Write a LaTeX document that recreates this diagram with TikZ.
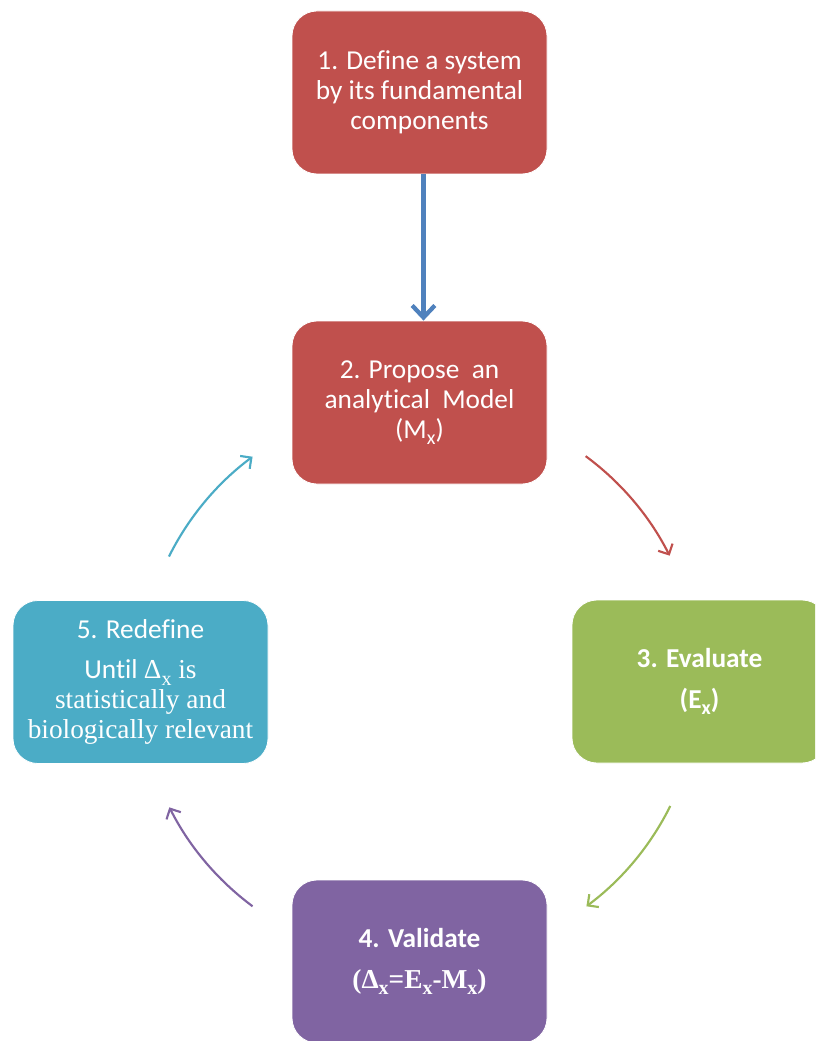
\documentclass[tikz,border=0pt]{standalone}
\usepackage{fontspec}
\setmainfont{Carlito}[Ligatures=NoCommon]
\newfontfamily\serifx{Liberation Serif}
\usetikzlibrary{arrows.meta}
\definecolor{cred}{HTML}{C0504D}
\definecolor{cblue}{HTML}{4F81BD}
\definecolor{cgreen}{HTML}{9BBB59}
\definecolor{cpurple}{HTML}{8064A2}
\definecolor{ccyan}{HTML}{4BACC6}
\tikzset{
  box/.style={rounded corners=18.75pt, minimum width=191.25pt, minimum height=122.25pt,
    draw=white, line width=0.6pt, text=white, align=center, inner sep=0pt, font=\fontsize{20.5}{22.5}\selectfont},
  cyc/.style={line width=1.6pt, -{Straight Barb[length=6pt,width=12pt,line width=1.6pt]}},
}
\newcommand{\sbx}{\raisebox{-0.5ex}{\fontsize{15}{15}\selectfont x}}
\begin{document}
\begin{tikzpicture}[x=0.75pt,y=0.75pt]
\clip (0,0) rectangle (815,-1041);
\fill[white] (0,0) rectangle (815,-1041);
\coordinate (c) at (419.5,-681.5);
\node[box, fill=cred] (b1) at (419.5,-92.5) {1. Define a system\\by its fundamental\\components};
\node[box, fill=cred] (b2) at (419.5,-402.5) {2. Propose\ \ an\\analytical\ \ Model\\(M\sbx)};
\node[box, fill=cgreen, font=\fontsize{20.5}{22.5}\selectfont\bfseries] (b3) at (699.5,-681.5) {3. Evaluate\\[8pt](E\sbx)};
\node[box, fill=cpurple, font=\fontsize{20.5}{22.5}\selectfont\bfseries] (b4) at (419.5,-961.5) {4. Validate\\[8pt]{\serifx(Δ\sbx=E\sbx-M\sbx)}};
\node[box, fill=ccyan] (b5) at (140.5,-682) {5. Redefine\\[8pt]Until {\serifx Δ\sbx\ is}\\{\serifx statistically and}\\{\serifx biologically relevant}};
\draw[cblue, line width=3.2pt, -{Straight Barb[length=9pt,width=17pt,line width=3.2pt]}] ([xshift=3pt]b1.south) -- ([xshift=3pt]b2.north);
\draw[cyc, cred] ([shift={(53.6:210pt)}]c) arc[start angle=53.6, end angle=26.7, radius=210pt];
\draw[cyc, cgreen] ([shift={(-26.4:210pt)}]c) arc[start angle=-26.4, end angle=-53.4, radius=210pt];
\draw[cyc, cpurple] ([shift={(-126.6:210pt)}]c) arc[start angle=-126.6, end angle=-153.3, radius=210pt];
\draw[cyc, ccyan] ([shift={(153.5:210pt)}]c) arc[start angle=153.5, end angle=126.6, radius=210pt];
\end{tikzpicture}
\end{document}
